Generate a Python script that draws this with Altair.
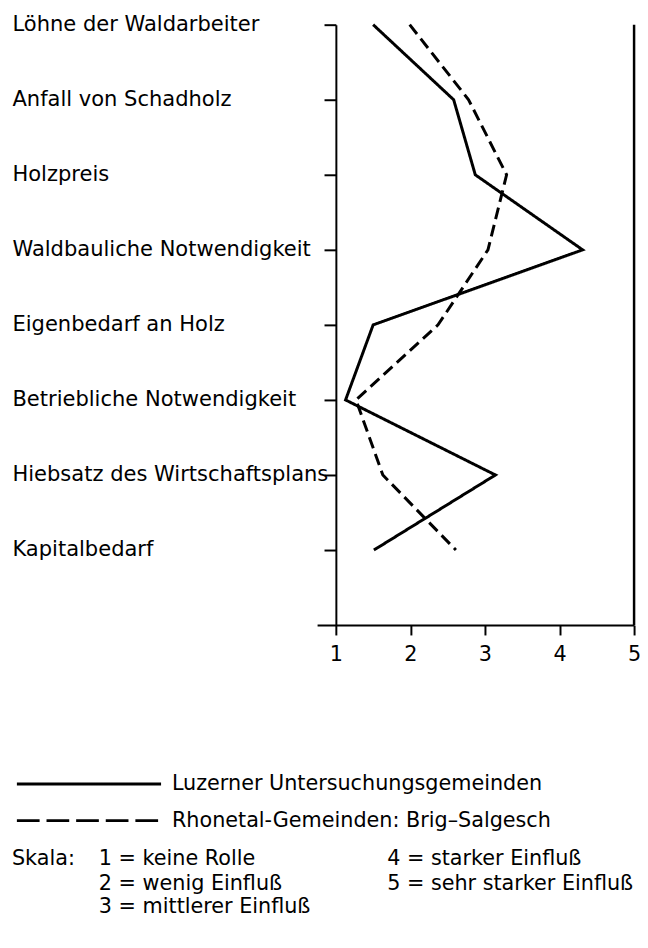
import altair as alt
import pandas as pd

# ---------------- data ----------------
categories = [
    "Löhne der Waldarbeiter",
    "Anfall von Schadholz",
    "Holzpreis",
    "Waldbauliche Notwendigkeit",
    "Eigenbedarf an Holz",
    "Betriebliche Notwendigkeit",
    "Hiebsatz des Wirtschaftsplans",
    "Kapitalbedarf",
]
luzern = [1.5, 2.58, 2.87, 4.31, 1.5, 1.13, 3.14, 1.51]
rhone = [1.99, 2.78, 3.29, 3.04, 2.37, 1.27, 1.63, 2.61]
series_names = ["Luzerner Untersuchungsgemeinden", "Rhonetal-Gemeinden: Brig–Salgesch"]
x_ticks = [1, 2, 3, 4, 5]
scale_title = "Skala:"
scale_labels = [
    "1 = keine Rolle",
    "2 = wenig Einfluß",
    "3 = mittlerer Einfluß",
    "4 = starker Einfluß",
    "5 = sehr starker Einfluß",
]

rows = []
for s, vals in zip(series_names, [luzern, rhone]):
    for i, (c, v) in enumerate(zip(categories, vals)):
        rows.append({"Faktor": c, "Wert": v, "Reihe": s, "idx": i})
df = pd.DataFrame(rows)

# ---------------- layout ----------------
FONT = "DejaVu Sans"
W, H = 321, 608
PAD_L, PAD_T, PAD_R, PAD_B = 313, 11, 6, 313
X0 = 0.748
ORIGIN_X = 8 + PAD_L   # page x of plot left
ORIGIN_Y = 8 + PAD_T   # page y of plot top

axis_pos = (1 - X0) / (5 - X0) * W
tick_len = 12
label_start_page = 12
label_pad = (ORIGIN_X + axis_pos - tick_len) - label_start_page

xscale = alt.Scale(domain=[X0, 5], nice=False, zero=False)
yscale = alt.Scale(type="point", domain=categories, padding=0.5, align=0)

lines = alt.Chart(df).mark_line(
    strokeWidth=3, color="black", strokeJoin="miter", strokeCap="butt"
).encode(
    x=alt.X("Wert:Q", scale=xscale, axis=alt.Axis(
        title=None, values=x_ticks, format="d", tickSize=10, tickWidth=2,
        tickColor="black", domainColor="black", domainWidth=2,
        labelPadding=9, labelFontSize=21, labelColor="black", labelFont=FONT,
        grid=False, labelFlush=False)),
    y=alt.Y("Faktor:N", scale=yscale, sort=categories, axis=alt.Axis(
        title=None, labelAlign="left", labelPadding=label_pad, labelLimit=600,
        labelFontSize=21.3, labelColor="black", labelFont=FONT,
        tickSize=tick_len, tickWidth=2, tickColor="black",
        domainColor="black", domainWidth=2, offset=-axis_pos, grid=False)),
    strokeDash=alt.StrokeDash("Reihe:N", scale=alt.Scale(
        domain=series_names, range=[[1, 0], [12, 6]]), legend=None),
    order=alt.Order("idx:Q"),
)

right_rule = alt.Chart(pd.DataFrame({"x": [x_ticks[-1]]})).mark_rule(
    strokeWidth=2.5, color="black"
).encode(x=alt.X("x:Q", scale=xscale))

layers = [lines, right_rule]

# legend for the two series
legend_dash = [[1, 0], [23, 7]]
legend_y = [788, 825]
for s, dash, ly in zip(series_names, legend_dash, legend_y):
    d = pd.DataFrame({"Reihe": [s]})
    layers.append(alt.Chart(d).mark_rule(
        strokeWidth=3, color="black", strokeDash=dash, strokeCap="butt"
    ).encode(
        x=alt.value(17 - ORIGIN_X), x2=alt.value(163 - ORIGIN_X),
        y=alt.value(ly - ORIGIN_Y)))
    layers.append(alt.Chart(d).mark_text(
        align="left", baseline="middle", fontSize=21, font=FONT, color="black"
    ).encode(
        x=alt.value(174 - ORIGIN_X), y=alt.value(ly - ORIGIN_Y), text="Reihe:N"))

# scale explanation
row_y = [864, 889, 913]
layers.append(alt.Chart(pd.DataFrame({"t": [scale_title]})).mark_text(
    align="left", baseline="middle", fontSize=21, font=FONT, color="black"
).encode(x=alt.value(12 - ORIGIN_X), y=alt.value(row_y[0] - ORIGIN_Y), text="t:N"))
for i, lab in enumerate(scale_labels):
    col_x = 100 if i < 3 else 392
    ry = row_y[i] if i < 3 else row_y[i - 3]
    layers.append(alt.Chart(pd.DataFrame({"t": [lab]})).mark_text(
        align="left", baseline="middle", fontSize=21, font=FONT, color="black"
    ).encode(x=alt.value(col_x - ORIGIN_X), y=alt.value(ry - ORIGIN_Y), text="t:N"))

chart = alt.layer(*layers).properties(
    width=W, height=H,
    padding={"left": PAD_L, "top": PAD_T, "right": PAD_R, "bottom": PAD_B},
    autosize=alt.AutoSizeParams(type="none"),
).configure(font=FONT).configure_view(strokeWidth=0)

chart.save("out.html", embed_options={"renderer": "svg", "actions": False})
